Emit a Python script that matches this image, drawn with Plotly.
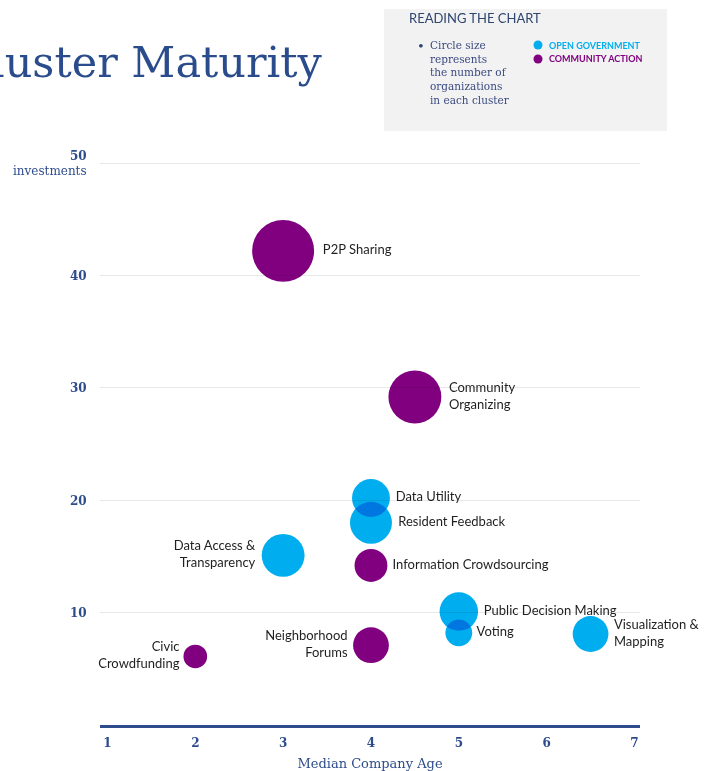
import plotly.graph_objects as go

# ---------------- data ----------------
clusters = ["P2P Sharing", "Community<br>Organizing", "Data Utility", "Resident Feedback",
            "Data Access &<br>Transparency", "Information Crowdsourcing", "Public Decision Making",
            "Voting", "Visualization &<br>Mapping", "Neighborhood<br>Forums", "Civic<br>Crowdfunding"]
groups = ["COMMUNITY ACTION", "COMMUNITY ACTION", "OPEN GOVERNMENT", "OPEN GOVERNMENT",
          "OPEN GOVERNMENT", "COMMUNITY ACTION", "OPEN GOVERNMENT",
          "OPEN GOVERNMENT", "OPEN GOVERNMENT", "COMMUNITY ACTION", "COMMUNITY ACTION"]
median_age = [3.0, 4.5, 4.0, 4.0, 3.0, 4.0, 5.0, 5.0, 6.5, 4.0, 2.0]
investments = [42.2, 29.2, 20.2, 18.0, 15.1, 14.2, 10.1, 8.2, 8.1, 7.1, 6.1]
organizations = [96, 70, 36, 44, 46, 27, 37, 18, 32, 32, 14]
label_side = ["right", "right", "right", "right", "left", "right", "right",
              "right", "right", "left", "left"]

x_ticks = [1, 2, 3, 4, 5, 6, 7]
y_ticks = [10, 20, 30, 40, 50]
y_tick_labels = ["<b>10</b>", "<b>20</b>", "<b>30</b>", "<b>40</b>", "<b>50</b><br>investments"]
legend_groups = ["OPEN GOVERNMENT", "COMMUNITY ACTION"]
bullet_lines = ["Circle size", "represents", "the number of", "organizations", "in each cluster"]

# ---------------- style ----------------
COLORS = {"OPEN GOVERNMENT": "#00AEEF", "COMMUNITY ACTION": "#800080"}
NAVY = "#2E4C8C"
SLAB = "DejaVu Serif"
SANS = "Lato"

W, H = 712, 771
ML, MR, MT, MB = 100, 72, 161, 46
PW, PH = W - ML - MR, H - MT - MB


def px(xp):
    return (xp - ML) / PW


def py(yp):
    return (H - MB - yp) / PH


fig = go.Figure()

for g in legend_groups:
    idx = [i for i, gg in enumerate(groups) if gg == g]
    fig.add_trace(go.Scatter(
        x=[median_age[i] for i in idx],
        y=[investments[i] for i in idx],
        text=[clusters[i] for i in idx],
        textposition=["middle " + label_side[i] for i in idx],
        mode="markers+text",
        cliponaxis=False,
        marker=dict(size=[organizations[i] for i in idx], sizemode="area", sizeref=0.05,
                    color=COLORS[g], line=dict(width=0), opacity=1),
        textfont=dict(family=SANS, size=13, color="#1f1f1f"),
        name=g, showlegend=False, hoverinfo="skip",
    ))

shapes = []
annotations = []

# Reading-the-chart box
shapes.append(dict(type="rect", xref="paper", yref="paper", x0=px(384), x1=px(667),
                   y0=py(131), y1=py(9), fillcolor="#F2F2F2", line=dict(width=0), layer="below"))
annotations.append(dict(text="READING THE CHART", xref="paper", yref="paper", x=px(407), y=py(18),
                        xanchor="left", yanchor="middle", showarrow=False,
                        font=dict(family=SANS, size=13, color="#2E4570")))
annotations.append(dict(text="•", xref="paper", yref="paper", x=px(416), y=py(45),
                        xanchor="left", yanchor="middle", showarrow=False,
                        font=dict(family=SANS, size=10, color="#2E4570")))
annotations.append(dict(text="<br>".join(bullet_lines), xref="paper", yref="paper", x=px(428), y=py(37),
                        xanchor="left", yanchor="top", align="left", showarrow=False,
                        font=dict(family=SLAB, size=10.5, color="#3A4A80")))
for k, g in enumerate(legend_groups):
    yc = 45 + 14 * k
    shapes.append(dict(type="circle", xref="paper", yref="paper", xsizemode="pixel", ysizemode="pixel",
                       xanchor=px(538), yanchor=py(yc), x0=-4.5, x1=4.5, y0=-4.5, y1=4.5,
                       fillcolor=COLORS[g], line=dict(width=0)))
    annotations.append(dict(text="<b>" + g + "</b>", xref="paper", yref="paper", x=px(547), y=py(yc),
                            xanchor="left", yanchor="middle", showarrow=False,
                            font=dict(family=SANS, size=9, color=COLORS[g])))

# Title (cut off at the left edge, as in the reference)
annotations.append(dict(text="Cluster Maturity", xref="paper", yref="paper", x=px(325), y=py(62),
                        xanchor="right", yanchor="middle", showarrow=False,
                        font=dict(family=SLAB, size=43, color="#2B4C8C")))

fig.update_layout(
    width=W, height=H,
    margin=dict(l=ML, r=MR, t=MT, b=MB, pad=0, autoexpand=False),
    paper_bgcolor="white", plot_bgcolor="white",
    shapes=shapes, annotations=annotations,
    xaxis=dict(range=[0.915, 7.063], tickvals=x_ticks, showgrid=False, zeroline=False,
               automargin=False,
               showline=True, linecolor=NAVY, linewidth=2.5,
               ticks="outside", ticklen=5, tickcolor="rgba(0,0,0,0)",
               tickfont=dict(family=SLAB, size=12, color=NAVY, weight="bold"),
               title=dict(text="Median Company Age", standoff=10,
                          font=dict(family=SLAB, size=13, color=NAVY))),
    yaxis=dict(range=[0, 50.2], tickvals=y_ticks, ticktext=y_tick_labels,
               automargin=False,
               showgrid=True, gridcolor="#E8E8E8", gridwidth=1,
               zeroline=False, showline=False,
               ticks="outside", ticklen=10, tickcolor="rgba(0,0,0,0)",
               tickfont=dict(family=SLAB, size=12, color=NAVY)),
)

post = ("document.body.style.margin='0';"
        "document.querySelectorAll('.scatterlayer path.point').forEach(function(p){"
        "p.style.mixBlendMode='multiply';});")
fig.write_html("out.html", post_script=post, config={"displayModeBar": False})
